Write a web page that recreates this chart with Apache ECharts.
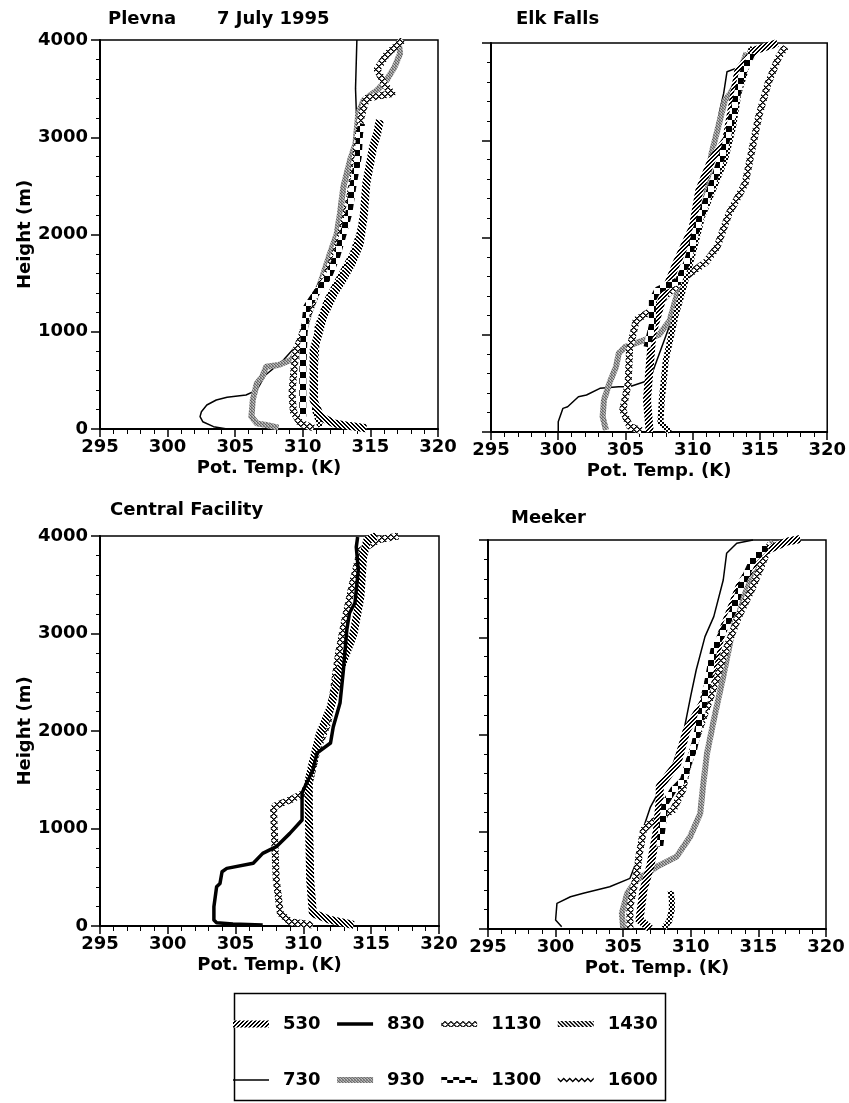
<!DOCTYPE html>
<html>
<head>
<meta charset="utf-8">
<script src="https://cdn.jsdelivr.net/npm/echarts@6/dist/echarts.min.js"></script>
<style>
  html, body { margin: 0; padding: 0; background: #fff; }
  #chart { width: 849px; height: 1103px; }
</style>
</head>
<body>
<div id="chart"></div>
<script>
// Sounding launch times (LST), legend order row by row
const legendRow1 = ['530', '830', '1130', '1430'];
const legendRow2 = ['730', '930', '1300', '1600'];
const stations = ['Plevna', 'Elk Falls', 'Central Facility', 'Meeker'];
const dateLabel = '7 July 1995';
const tempRange = [295, 320];
const heightRange = [0, 4000];

// Profiles as [potential temperature (K), height (m)]
// --- Plevna
const plevna730 = [[304.4,0],[303.4,24],[302.6,75],[302.4,127],[302.5,178],[302.9,247],[303.6,298],[304.4,326],[305.8,350],[306.6,400],[307.2,550],[308.5,700],[309.8,900],[310.5,1200],[311.5,1500],[312.3,1800],[312.8,2200],[313.3,2600],[313.8,2900],[314.0,3100],[313.9,3500],[314.0,4000]];
const plevna930 = [[308.2,14],[307.3,41],[306.6,58],[306.2,127],[306.3,298],[306.6,470],[307.0,538],[307.3,641],[308.2,658],[309.1,709],[309.7,812],[310.0,949],[310.5,1200],[311.3,1500],[312.0,1800],[312.5,2000],[312.75,2217],[313.0,2491],[313.5,2766],[313.9,2937],[314.1,3245],[314.5,3382],[315.5,3485],[316.2,3588],[316.8,3725],[317.2,3862],[317.1,3965]];
const plevna1130 = [[310.8,10],[309.8,60],[309.3,180],[309.2,370],[309.3,540],[309.5,810],[309.9,950],[310.3,1150],[311.0,1400],[311.8,1600],[312.5,1850],[313.0,2100],[313.5,2400],[313.8,2700],[314.1,3000],[314.3,3200],[314.7,3400],[316.6,3450],[316.0,3550],[315.5,3700],[316.2,3850],[317.4,4000]];
const plevna1300 = [[310.0,127],[310.0,600],[310.1,1000],[310.3,1258],[311.0,1400],[311.9,1566],[312.5,1772],[313.0,2012],[313.4,2217],[313.7,2491],[314.1,2800],[314.2,3040],[314.35,3142]];
const plevna1430 = [[314.7,7],[313.5,30],[312.3,58],[311.3,127],[310.8,298],[310.8,600],[310.8,812],[311.2,1000],[311.5,1155],[312.3,1395],[313.0,1550],[313.6,1700],[314.2,1900],[314.5,2183],[314.7,2526],[315.2,2900],[315.5,3040],[315.7,3177]];
const plevna1600 = [[311.3,24],[310.9,195],[310.9,641],[311.1,1052],[311.8,1326],[312.75,1566],[313.7,1806],[314.2,2012],[314.5,2217]];

// --- Elk Falls
const elk730 = [[300.0,0],[300.0,106],[300.35,243],[300.7,260],[301.5,363],[302.1,380],[303.1,449],[304.5,466],[305.3,466],[306.8,535],[307.5,800],[308.3,1100],[309.2,1400],[309.8,1700],[310.3,2000],[310.5,2351],[310.8,2574],[311.6,3000],[312.0,3300],[312.3,3482],[312.55,3705],[313.2,3739],[313.5,3756]];
const elk930 = [[303.55,20],[303.3,158],[303.4,329],[303.8,500],[304.3,672],[304.5,809],[305.0,877],[306.5,950],[307.5,1000],[308.3,1150],[308.8,1400],[309.3,1600],[310.0,1974],[310.95,2385],[311.4,2865],[311.9,3139],[312.4,3413],[312.8,3482],[313.2,3585],[314.0,3900]];
const elk1130 = [[306.2,10],[305.3,60],[304.8,226],[305.2,500],[305.3,843],[305.8,1151],[307.0,1254],[308.0,1400],[309.5,1600],[311.0,1750],[311.8,1900],[312.7,2248],[313.5,2450],[313.9,2557],[314.4,2899],[314.9,3242],[315.6,3585],[316.4,3859],[316.9,3962]];
const elk530 = [[306.8,0],[306.6,329],[306.8,672],[307.0,1014],[307.7,1357],[308.8,1738],[310.0,2100],[310.5,2488],[311.4,2797],[312.5,3003],[313.0,3400],[313.4,3722],[314.7,3928],[316.3,4000]];
const elk1300 = [[306.6,874],[307.0,1100],[307.0,1357],[307.4,1460],[308.5,1530],[308.9,1545],[309.6,1750],[310.3,2100],[311.2,2450],[311.9,2728],[312.4,2934],[312.8,3173],[313.2,3400],[313.6,3650],[314.4,3893]];
const elk1600 = [[308.3,0],[307.6,100],[307.7,329],[308.0,740],[308.7,1186],[309.2,1426],[310.0,1837],[310.7,2214],[311.7,2557],[312.4,2797],[313.0,3139],[313.4,3482],[314.0,3756],[314.4,3962]];

// --- Central Facility
const central830 = [[307.0,10],[304.8,20],[303.6,34],[303.4,62],[303.4,198],[303.6,403],[303.85,437],[304.0,557],[304.35,591],[306.3,643],[307.0,745],[308.0,814],[309.0,950],[309.9,1087],[309.9,1361],[310.0,1395],[310.7,1600],[311.0,1774],[312.0,1877],[312.2,2041],[312.7,2287],[312.95,2626],[313.2,3036],[313.4,3210],[313.8,3313],[314.05,3651],[313.9,3887],[314.0,3990]];
const central1130 = [[310.7,10],[309.0,44],[308.3,130],[308.0,472],[307.9,814],[307.8,1190],[307.9,1230],[309.0,1292],[310.0,1361],[310.5,1500],[311.0,1800],[311.8,2082],[312.2,2400],[312.6,2800],[313.0,3100],[313.6,3500],[314.2,3850],[315.5,3960],[317.0,4000]];
const central1430 = [[313.7,10],[312.0,62],[310.7,130],[310.5,472],[310.4,1156],[310.4,1497],[310.7,1680],[311.2,1965],[312.0,2239],[312.7,2626],[313.7,3000],[314.2,3374],[314.4,3785],[314.7,3955],[315.4,4000]];

// --- Meeker
const meeker730 = [[300.45,24],[300.0,93],[300.1,264],[301.1,332],[302.05,367],[304.0,435],[305.5,521],[306.0,700],[306.4,1000],[307.0,1250],[307.7,1429],[308.7,1704],[309.4,1978],[310.0,2400],[310.4,2663],[311.05,3006],[311.7,3212],[312.4,3589],[312.65,3863],[313.4,3966],[314.6,4000]];
const meeker930 = [[305.0,7],[304.9,161],[305.3,367],[306.0,504],[307.5,641],[308.95,744],[309.95,949],[310.7,1189],[310.9,1464],[311.2,1806],[311.7,2149],[312.4,2595],[313.0,3006],[313.6,3349],[314.4,3589],[315.4,3863],[316.1,3983]];
const meeker530 = [[307.0,7],[306.2,93],[306.5,401],[307.0,641],[307.5,1018],[307.7,1326],[307.7,1464],[309.0,1704],[309.7,2046],[310.9,2320],[312.2,3006],[313.6,3520],[315.1,3863],[317.1,3983],[318.1,4010]];
const meeker1130 = [[305.5,7],[305.5,230],[306.0,572],[306.2,778],[306.5,1018],[307.0,1087],[308.7,1224],[309.4,1430],[309.7,1635],[310.5,2000],[311.5,2400],[312.4,2800],[313.5,3200],[314.6,3520],[315.9,3966]];
const meeker1300 = [[307.7,847],[308.1,1292],[308.7,1429],[309.45,1532],[309.9,1738],[310.2,1840],[311.0,2350],[311.7,2869],[313.15,3280],[313.6,3486],[314.6,3794],[315.6,3931]];
const meeker1600 = [[308.0,10],[308.4,80],[308.6,200],[308.6,300],[308.5,390]];

// which profiles go in which panel, drawn bottom to top
const panels = [
  [['730', plevna730], ['930', plevna930], ['1130', plevna1130], ['1600', plevna1600], ['1430', plevna1430], ['1300', plevna1300]],
  [['730', elk730], ['930', elk930], ['1130', elk1130], ['1600', elk1600], ['530', elk530], ['1300', elk1300]],
  [['1130', central1130], ['1430', central1430], ['830', central830]],
  [['730', meeker730], ['930', meeker930], ['1600', meeker1600], ['1130', meeker1130], ['530', meeker530], ['1300', meeker1300]]
];

// ---------- fill patterns for the line textures ----------
function tile(size, paint) {
  const c = document.createElement('canvas');
  c.width = c.height = size;
  const g = c.getContext('2d');
  g.fillStyle = '#fff';
  g.fillRect(0, 0, size, size);
  const img = g.getImageData(0, 0, size, size);
  for (let y = 0; y < size; y++) {
    for (let x = 0; x < size; x++) {
      const v = paint(x, y);
      if (v !== null) {
        const i = (y * size + x) * 4;
        img.data[i] = img.data[i + 1] = img.data[i + 2] = v;
      }
    }
  }
  g.putImageData(img, 0, 0);
  return { image: c, repeat: 'repeat' };
}
const mod = (a, n) => ((a % n) + n) % n;
const patterns = {
  fwdHatch: tile(4, (x, y) => (mod(x + y, 4) < 2 ? 0 : null)),
  backHatch: tile(4, (x, y) => (mod(x - y, 4) < 2 ? 0 : null)),
  cross: tile(6, (x, y) => {
    const a = mod(x + y, 6), b = mod(x - y, 6);
    return (a === 0 || b === 0) ? 0 : (a === 1 || b === 1) ? 90 : null;
  }),
  squares: tile(12, (x, y) => ((x < 6) === (y < 6) ? 0 : null)),
  fineChecker: tile(4, (x, y) => ((x < 2) === (y < 2) ? 0 : null)),
  stipple: tile(3, (x, y) => [[110, 170, 140], [190, 90, 160], [150, 200, 100]][y][x])
};

// look of each launch time: line texture, width, legend icon
const looks = {
  '530':  { color: patterns.fwdHatch,   width: 8,   icon: 'path://M0,0H36V7H0Z' },
  '830':  { color: '#000',              width: 3.5, icon: 'path://M0,0H36V3.5H0Z' },
  '1130': { color: patterns.cross,      width: 7,   icon: 'path://M0,0H36V6H0Z' },
  '1430': { color: patterns.backHatch,  width: 8,   icon: 'path://M0,0H36V6H0Z' },
  '730':  { color: '#000',              width: 1.5, icon: 'path://M0,0H36V1.6H0Z' },
  '930':  { color: patterns.stipple,    width: 6,   icon: 'path://M0,0H36V6H0Z' },
  '1300': { color: patterns.squares,    width: 7,   icon: 'path://M0,0H36V6H0Z' },
  '1600': { color: patterns.fineChecker, width: 6,
            icon: 'path://M0,0L3,3L6,0L9,3L12,0L15,3L18,0L21,3L24,0L27,3L30,0L33,3L36,0L36,1.8L33,4.8L30,1.8L27,4.8L24,1.8L21,4.8L18,1.8L15,4.8L12,1.8L9,4.8L6,1.8L3,4.8L0,1.8Z',
            iconColor: '#000' }
};

const font = { fontFamily: 'DejaVu Sans', fontWeight: 'bold', fontSize: 18, color: '#000' };

// plot areas in pixels
const gridBoxes = [
  { left: 100, top: 40,  width: 338, height: 389 },
  { left: 491, top: 43,  width: 338, height: 389 },
  { left: 100, top: 536, width: 339, height: 390 },
  { left: 488, top: 540, width: 338, height: 389 }
];

const grids = gridBoxes.map(b => Object.assign({
  show: true, borderColor: '#000', borderWidth: 1.5, backgroundColor: 'transparent',
  containLabel: false
}, b));

const plain = v => String(v);

const xAxes = gridBoxes.map((b, i) => ({
  type: 'value', gridIndex: i, min: tempRange[0], max: tempRange[1], interval: 5,
  name: 'Pot. Temp. (K)', nameLocation: 'middle', nameGap: 30, nameTextStyle: font,
  axisLine: { onZero: false, lineStyle: { color: '#000', width: 2 } },
  axisTick: { length: 8, lineStyle: { color: '#000', width: 1.5 } },
  minorTick: { show: true, splitNumber: 5, length: 5, lineStyle: { color: '#000', width: 1 } },
  axisLabel: Object.assign({ margin: 9, formatter: plain }, font),
  splitLine: { show: false }
}));

const yAxes = gridBoxes.map((b, i) => ({
  type: 'value', gridIndex: i, min: heightRange[0], max: heightRange[1], interval: 1000,
  name: i % 2 === 0 ? 'Height (m)' : '', nameLocation: 'middle', nameGap: 62, nameRotate: 90,
  nameTextStyle: font,
  axisLine: { onZero: false, lineStyle: { color: '#000', width: 2 } },
  axisTick: { length: 9, lineStyle: { color: '#000', width: 1.5 } },
  minorTick: { show: true, splitNumber: 5, length: 4, lineStyle: { color: '#000', width: 1 } },
  axisLabel: Object.assign({ show: i % 2 === 0, margin: 12, formatter: plain }, font),
  splitLine: { show: false }
}));

const series = [];
panels.forEach((list, p) => {
  list.forEach(([name, data]) => {
    const look = looks[name];
    series.push({
      type: 'line', name: name, xAxisIndex: p, yAxisIndex: p,
      data: data, symbol: 'none', silent: true, clip: false, animation: false,
      emphasis: { disabled: true },
      lineStyle: { color: look.color, width: look.width, join: 'round', cap: 'butt' }
    });
  });
});
// keep every launch time in the legend, even ones not flown at every site
Object.keys(looks).forEach(name => {
  if (!series.some(s => s.name === name)) {
    series.push({ type: 'line', name: name, xAxisIndex: 0, yAxisIndex: 0, data: [], symbol: 'none' });
  }
});

function legendItems(names) {
  return names.map(n => ({
    name: n, icon: looks[n].icon,
    itemStyle: { color: looks[n].iconColor || looks[n].color, borderWidth: 0 }
  }));
}
const legendBase = {
  left: 228, itemWidth: 36, itemHeight: 12, itemGap: 16.5, selectedMode: false,
  orient: 'horizontal', symbolKeepAspect: true,
  textStyle: Object.assign({ lineHeight: 20, padding: [0, 0, 0, 9] }, font)
};

const titleAt = (text, left, top) => ({ text, left, top, padding: 0, textStyle: font });

const option = {
  backgroundColor: '#fff',
  animation: false,
  title: [
    titleAt(stations[0], 108, 10),
    titleAt(dateLabel, 217, 10),
    titleAt(stations[1], 516, 10),
    titleAt(stations[2], 110, 501),
    titleAt(stations[3], 511, 509)
  ],
  grid: grids,
  xAxis: xAxes,
  yAxis: yAxes,
  legend: [
    Object.assign({ top: 1009, data: legendItems(legendRow1) }, legendBase),
    Object.assign({ top: 1065, data: legendItems(legendRow2) }, legendBase)
  ],
  graphic: [{
    type: 'rect', left: 232, top: 991, silent: true,
    shape: { width: 431, height: 107 },
    style: { fill: 'none', stroke: '#000', lineWidth: 1.5 }
  }],
  series: series
};

const chart = echarts.init(document.getElementById('chart'), null, { renderer: 'canvas' });
chart.setOption(option);
</script>
</body>
</html>
